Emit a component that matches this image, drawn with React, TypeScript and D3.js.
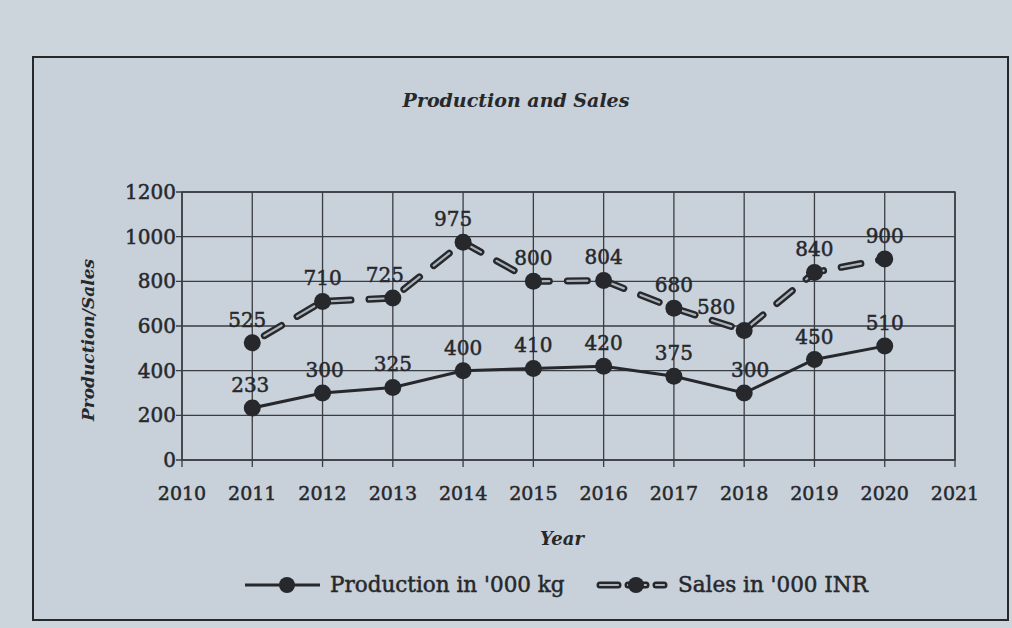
import React, { useEffect, useRef } from "react";
import * as d3 from "d3";

const years = [2011, 2012, 2013, 2014, 2015, 2016, 2017, 2018, 2019, 2020];
const production = [233, 300, 325, 400, 410, 420, 375, 300, 450, 510];
const sales = [525, 710, 725, 975, 800, 804, 680, 580, 840, 900];
const xTicks = [2010, 2011, 2012, 2013, 2014, 2015, 2016, 2017, 2018, 2019, 2020, 2021];
const yTicks = [0, 200, 400, 600, 800, 1000, 1200];
// label offsets (dx) for readability, as in the reference
const salesLabelDx = [-5, 0, -8, -10, 0, 0, 0, -28, 0, 0];
const prodLabelDx = [-2, 2, 0, 0, 0, 0, 0, 6, 0, 0];

const W = 1012;
const H = 628;
const FONT = "'DejaVu Serif', serif";
const INK = "#26282c";

export default function App() {
  const ref = useRef<SVGSVGElement>(null);

  useEffect(() => {
    const svg = d3.select(ref.current);
    svg.selectAll("*").remove();

    const x = d3.scaleLinear().domain([2010, 2021]).range([182, 955]);
    const y = d3.scaleLinear().domain([0, 1200]).range([460, 192]);

    svg.append("rect").attr("width", W).attr("height", H).attr("fill", "#ccd4dc");
    // outer frame
    svg.append("rect").attr("x", 33).attr("y", 57).attr("width", 975).attr("height", 563)
      .attr("fill", "#c8d0d9").attr("stroke", INK).attr("stroke-width", 2);

    // plot area
    svg.append("rect").attr("x", x(2010)).attr("y", y(1200))
      .attr("width", x(2021) - x(2010)).attr("height", y(0) - y(1200))
      .attr("fill", "#c9d1da").attr("stroke", "#3a3d42").attr("stroke-width", 1.5);

    const g = svg.append("g");
    // horizontal gridlines
    g.selectAll("line.h").data(yTicks).join("line")
      .attr("x1", x(2010) - 6).attr("x2", x(2021))
      .attr("y1", (d) => y(d)).attr("y2", (d) => y(d))
      .attr("stroke", "#3a3d42").attr("stroke-width", 1.3);
    // vertical gridlines
    g.selectAll("line.v").data(xTicks).join("line")
      .attr("x1", (d) => x(d)).attr("x2", (d) => x(d))
      .attr("y1", y(1200)).attr("y2", y(0) + 7)
      .attr("stroke", "#3a3d42").attr("stroke-width", 1.3);

    const txt = (sel: any, size: number) =>
      sel.attr("font-family", FONT).attr("font-size", size).attr("fill", INK)
        .attr("stroke", INK).attr("stroke-width", 0.5);

    // y tick labels
    txt(g.selectAll("text.yt").data(yTicks).join("text")
      .attr("x", x(2010) - 6).attr("y", (d: number) => y(d) + 7)
      .attr("text-anchor", "end"), 20).text((d: number) => String(d));
    // x tick labels
    txt(g.selectAll("text.xt").data(xTicks).join("text")
      .attr("x", (d: number) => x(d)).attr("y", 500)
      .attr("text-anchor", "middle"), 19).text((d: number) => String(d));

    // title & axis titles
    svg.append("text").attr("x", 516).attr("y", 107).attr("text-anchor", "middle")
      .attr("font-family", FONT).attr("font-style", "italic").attr("font-weight", "bold")
      .attr("font-size", 19).attr("fill", INK).text("Production and Sales");
    svg.append("text").attr("x", 562).attr("y", 545).attr("text-anchor", "middle")
      .attr("font-family", FONT).attr("font-style", "italic").attr("font-weight", "bold")
      .attr("font-size", 18).attr("fill", INK).text("Year");
    svg.append("text").attr("transform", "translate(94,340) rotate(-90)").attr("text-anchor", "middle")
      .attr("font-family", FONT).attr("font-style", "italic").attr("font-weight", "bold")
      .attr("font-size", 17).attr("fill", INK).text("Production/Sales");

    const line = d3.line<number>().x((_, i) => x(years[i])).y((d) => y(d));

    // production line
    g.append("path").attr("d", line(production)).attr("fill", "none")
      .attr("stroke", INK).attr("stroke-width", 3);
    // sales line: outlined dashes
    g.append("path").attr("d", line(sales)).attr("fill", "none")
      .attr("stroke", INK).attr("stroke-width", 7).attr("stroke-dasharray", "20 18")
      .attr("stroke-dashoffset", -14).attr("stroke-linecap", "round");
    g.append("path").attr("d", line(sales)).attr("fill", "none")
      .attr("stroke", "#aab2bb").attr("stroke-width", 2.2).attr("stroke-dasharray", "20 18")
      .attr("stroke-dashoffset", -14).attr("stroke-linecap", "round");

    const markers = (vals: number[]) =>
      g.append("g").selectAll("circle").data(vals).join("circle")
        .attr("cx", (_, i) => x(years[i])).attr("cy", (d) => y(d)).attr("r", 8.5).attr("fill", INK);
    markers(production);
    markers(sales);

    const labels = (vals: number[], dx: number[]) =>
      txt(g.append("g").selectAll("text").data(vals).join("text")
        .attr("x", (_: number, i: number) => x(years[i]) + dx[i]).attr("y", (d: number) => y(d) - 16)
        .attr("text-anchor", "middle"), 20).text((d: number) => String(d));
    labels(production, prodLabelDx);
    labels(sales, salesLabelDx);

    // legend
    const ly = 585;
    const lg = svg.append("g");
    lg.append("line").attr("x1", 245).attr("x2", 320).attr("y1", ly).attr("y2", ly)
      .attr("stroke", INK).attr("stroke-width", 3);
    lg.append("circle").attr("cx", 287).attr("cy", ly).attr("r", 8).attr("fill", INK);
    txt(lg.append("text").attr("x", 330).attr("y", ly + 7), 21.5).text("Production in '000 kg");
    lg.append("line").attr("x1", 600).attr("x2", 664).attr("y1", ly).attr("y2", ly)
      .attr("stroke", INK).attr("stroke-width", 7).attr("stroke-dasharray", "18 10")
      .attr("stroke-linecap", "round");
    lg.append("line").attr("x1", 600).attr("x2", 664).attr("y1", ly).attr("y2", ly)
      .attr("stroke", "#aab2bb").attr("stroke-width", 2.2).attr("stroke-dasharray", "18 10")
      .attr("stroke-linecap", "round");
    lg.append("circle").attr("cx", 636).attr("cy", ly).attr("r", 8).attr("fill", INK);
    txt(lg.append("text").attr("x", 678).attr("y", ly + 7), 21.5).text("Sales in '000 INR");
  }, []);

  return (
    <svg ref={ref} width={W} height={H}
      style={{ position: "absolute", left: 0, top: 0, display: "block" }} />
  );
}
